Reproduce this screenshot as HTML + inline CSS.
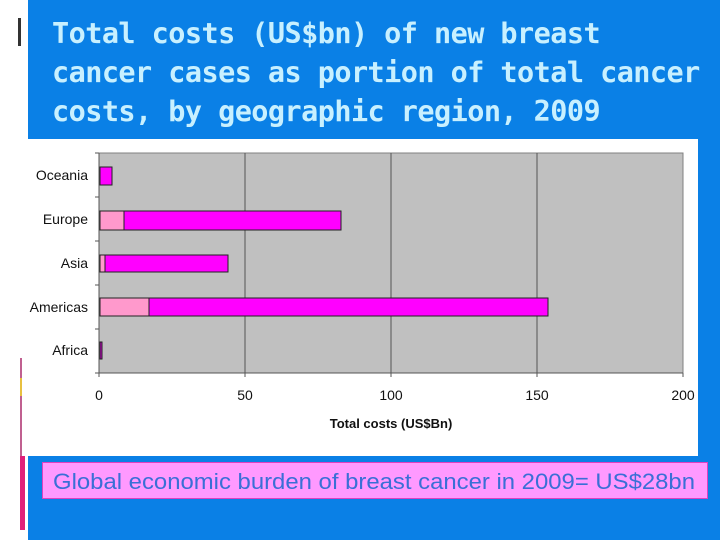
<!DOCTYPE html>
<html><head><meta charset="utf-8"><style>
html,body{margin:0;padding:0;}
body{width:720px;height:540px;position:relative;background:#fff;overflow:hidden;font-family:"Liberation Sans",sans-serif;}
.blue{position:absolute;background:#0a80e6;}
.title{position:absolute;left:52px;top:14px;color:#c8f0ff;font-family:"DejaVu Sans Mono","Liberation Mono",monospace;font-weight:bold;font-size:28.5px;line-height:39px;letter-spacing:-0.55px;white-space:nowrap;}
</style></head><body>
<div class="blue" style="left:28px;top:0;width:692px;height:139px"></div>
<div class="blue" style="left:698px;top:139px;width:22px;height:401px"></div>
<div class="blue" style="left:28px;top:456px;width:692px;height:84px"></div>
<div style="position:absolute;left:18px;top:18px;width:3px;height:28px;background:#333"></div>
<div style="position:absolute;left:20px;top:358px;width:2px;height:20px;background:#c06090"></div>
<div style="position:absolute;left:20px;top:378px;width:2px;height:18px;background:#e8c040"></div>
<div style="position:absolute;left:20px;top:396px;width:2px;height:60px;background:#c06090"></div>
<div style="position:absolute;left:20px;top:456px;width:5px;height:74px;background:#e0207a"></div>
<div class="title">Total costs (US$bn) of new breast<br>cancer cases as portion of total cancer<br>costs, by geographic region, 2009</div>
<svg style="position:absolute;left:0;top:0" width="720" height="540" font-family="Liberation Sans, sans-serif">
<rect x="99" y="153" width="584" height="220" fill="#c0c0c0" stroke="#808080"/>
<g stroke="#555" stroke-width="1">
<line x1="245" y1="153" x2="245" y2="373"/><line x1="391" y1="153" x2="391" y2="373"/><line x1="537" y1="153" x2="537" y2="373"/>
<line x1="99" y1="153" x2="99" y2="377"/><line x1="95" y1="373" x2="683" y2="373"/>
<line x1="683" y1="373" x2="683" y2="377"/><line x1="245" y1="373" x2="245" y2="377"/><line x1="391" y1="373" x2="391" y2="377"/><line x1="537" y1="373" x2="537" y2="377"/>
<line x1="95" y1="197" x2="99" y2="197"/><line x1="95" y1="241" x2="99" y2="241"/><line x1="95" y1="285" x2="99" y2="285"/><line x1="95" y1="329" x2="99" y2="329"/><line x1="95" y1="153" x2="99" y2="153"/>
</g>
<g stroke="#222" stroke-width="1">
<rect x="100" y="167" width="12" height="18" fill="#ff00ff"/>
<rect x="100" y="211" width="24" height="19" fill="#ff99cc"/><rect x="124" y="211" width="217" height="19" fill="#ff00ff"/>
<rect x="100" y="255" width="5" height="17" fill="#ff99cc"/><rect x="105" y="255" width="123" height="17" fill="#ff00ff"/>
<rect x="100" y="298" width="49" height="18" fill="#ff99cc"/><rect x="149" y="298" width="399" height="18" fill="#ff00ff"/>
<rect x="100" y="342" width="2" height="17" fill="#cc00cc"/>
</g>
<g font-size="14" fill="#111" text-anchor="end">
<text x="88" y="180">Oceania</text><text x="88" y="224">Europe</text><text x="88" y="268">Asia</text><text x="88" y="312">Americas</text><text x="88" y="355">Africa</text>
</g>
<g font-size="14" fill="#111" text-anchor="middle">
<text x="99" y="400">0</text><text x="245" y="400">50</text><text x="391" y="400">100</text><text x="537" y="400">150</text><text x="683" y="400">200</text>
<text x="391" y="428" font-weight="bold" font-size="13">Total costs (US$Bn)</text>
</g>
<rect x="42.5" y="462.5" width="665" height="36" fill="#ff99ff" stroke="#e040c0"/>
<text x="53" y="489" font-size="22" fill="#3a6fd6" textLength="642" lengthAdjust="spacingAndGlyphs">Global economic burden of breast cancer in 2009= US$28bn</text>
</svg>
</body></html>
